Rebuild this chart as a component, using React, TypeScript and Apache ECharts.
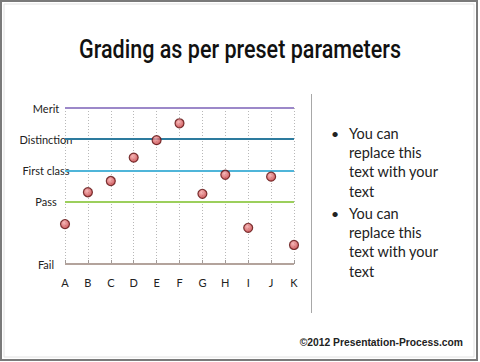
import React, { useEffect, useRef } from "react";
import * as echarts from "echarts";

const categories = ["A", "B", "C", "D", "E", "F", "G", "H", "I", "J", "K"];
const scores = [1.28, 2.3, 2.66, 3.41, 3.97, 4.51, 2.25, 2.86, 1.16, 2.8, 0.61];
const levelNames = ["Fail", "Pass", "First class", "Distinction", "Merit"];
const levelValues = [0, 2, 3, 4, 5];
const levelColors = ["#b3a39c", "#9ccf5c", "#4fb5d9", "#2d7b9e", "#9c88c9"];
const bulletText = "You can\nreplace this\ntext with your\ntext";
const titleText = "Grading as per preset parameters";

export default function App() {
  const ref = useRef<HTMLDivElement>(null);
  useEffect(() => {
    if (!ref.current) return;
    const chart = echarts.init(ref.current, null, { renderer: "svg" });
    const labelMap: Record<number, string> = {};
    levelValues.forEach((v, i) => (labelMap[v] = levelNames[i]));

    const titleFont = "500 26px Roboto";
    let titleScale = 0.82;
    try {
      const ctx = document.createElement("canvas").getContext("2d");
      if (ctx) {
        ctx.font = titleFont;
        const w = ctx.measureText(titleText).width;
        if (w > 0) titleScale = 322 / w;
      }
    } catch (e) {}

    chart.setOption({
      animation: false,
      backgroundColor: "#ffffff",
      grid: { left: 65, right: 186, top: 108, bottom: 98 },
      xAxis: {
        type: "category",
        data: categories,
        boundaryGap: false,
        axisLine: { show: false },
        axisTick: { show: true, inside: true, length: 4, lineStyle: { color: "#a09a98" } },
        axisLabel: { color: "#222", fontFamily: "Lato", fontSize: 11, margin: 13 },
        splitLine: { show: true, lineStyle: { type: [1, 2], color: "#b8b8b8", width: 1 } },
      },
      yAxis: {
        type: "value",
        min: 0,
        max: 5,
        interval: 1,
        axisLine: { show: false },
        axisTick: { show: false },
        splitLine: { show: false },
        axisLabel: {
          color: "#222",
          fontFamily: "Lato",
          fontSize: 11,
          align: "center",
          margin: 19,
          formatter: (v: number) => labelMap[v] || "",
        },
      },
      series: [
        {
          type: "scatter",
          data: scores,
          symbolSize: 9,
          z: 3,
          itemStyle: {
            color: new echarts.graphic.RadialGradient(0.4, 0.35, 0.7, [
              { offset: 0, color: "#f5a6a6" },
              { offset: 1, color: "#c02f33" },
            ]),
            borderColor: "#5e1010",
            borderWidth: 1.2,
          },
          markLine: {
            silent: true,
            symbol: "none",
            z: 2,
            label: { show: false },
            data: levelValues.map((v, i) => ({
              yAxis: v,
              lineStyle: { color: levelColors[i], width: 2, type: "solid" },
            })),
          },
        },
      ],
      graphic: [
        {
          type: "rect",
          shape: { x: 1, y: 1, width: 476, height: 359 },
          style: { fill: "none", stroke: "#7a7a7a", lineWidth: 2 },
          silent: true,
        },
        {
          type: "rect",
          shape: { x: 4, y: 4, width: 470, height: 353 },
          style: { fill: "none", stroke: "#e2e2e2", lineWidth: 1 },
          silent: true,
        },
        {
          type: "text",
          x: 240,
          y: 49,
          scaleX: titleScale,
          style: {
            text: titleText,
            fontFamily: "Roboto",
            fontWeight: 500,
            fontSize: 26,
            fill: "#111",
            align: "center",
            verticalAlign: "middle",
          },
        },
        {
          type: "line",
          shape: { x1: 311.5, y1: 94, x2: 311.5, y2: 313 },
          style: { stroke: "#a8a8a8", lineWidth: 1 },
        },
        {
          type: "text",
          x: 335,
          y: 133,
          style: { text: "•", fontFamily: "Lato", fontSize: 14, fill: "#222", align: "center", verticalAlign: "middle" },
        },
        {
          type: "text",
          x: 349,
          y: 123.5,
          style: { text: bulletText, fontFamily: "Lato", fontSize: 14.5, lineHeight: 19.3, fill: "#222", align: "left", verticalAlign: "top" },
        },
        {
          type: "text",
          x: 335,
          y: 213,
          style: { text: "•", fontFamily: "Lato", fontSize: 14, fill: "#222", align: "center", verticalAlign: "middle" },
        },
        {
          type: "text",
          x: 349,
          y: 203.5,
          style: { text: bulletText, fontFamily: "Lato", fontSize: 14.5, lineHeight: 19.3, fill: "#222", align: "left", verticalAlign: "top" },
        },
        {
          type: "text",
          x: 463,
          y: 342,
          style: {
            text: "©2012 Presentation-Process.com",
            fontFamily: "Liberation Sans",
            fontWeight: "bold",
            fontSize: 10.3,
            fill: "#222",
            align: "right",
            verticalAlign: "middle",
          },
        },
      ],
    });
    return () => chart.dispose();
  }, []);
  return (
    <div
      ref={ref}
      style={{ position: "fixed", left: 0, top: 0, width: 480, height: 362 }}
    />
  );
}
